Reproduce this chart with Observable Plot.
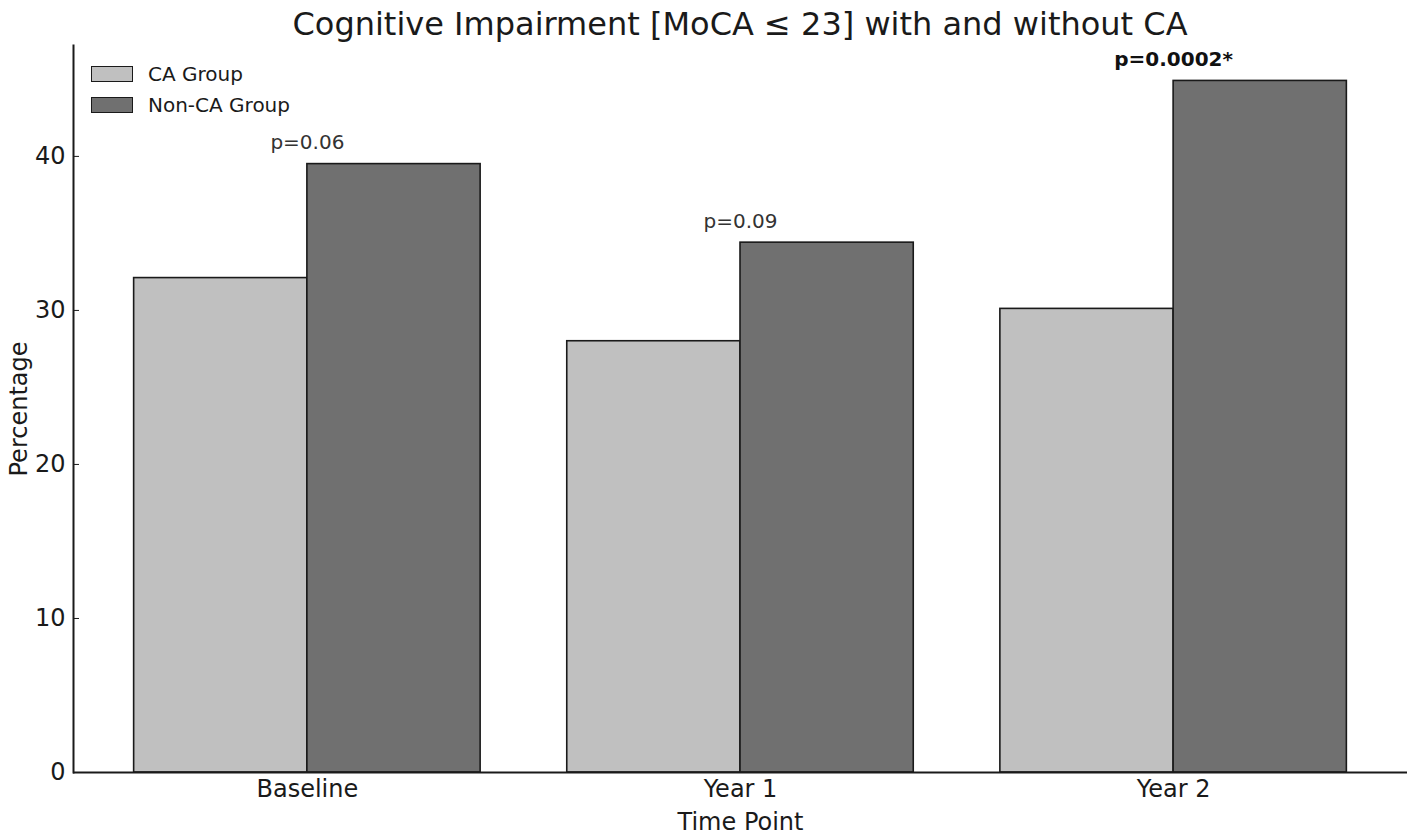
<!DOCTYPE html>
<html><head><meta charset="utf-8">
<script src="https://cdn.jsdelivr.net/npm/d3@7"></script>
<script src="https://cdn.jsdelivr.net/npm/@observablehq/plot@0.6"></script>
<style>
body{margin:0;background:#fff;font-family:"DejaVu Sans",sans-serif}
#wrap{position:relative;width:1417px;height:839px}
#title{position:absolute;left:73px;width:1334px;top:5px;text-align:center;font-size:32px;color:#1a1a1a;white-space:nowrap}
#legend{position:absolute;left:91px;top:58px}
.leg{display:flex;align-items:center;height:31px;font-size:20px;color:#1a1a1a}
.sw{width:40px;height:14px;border:1.5px solid #1a1a1a;margin-right:15px}
svg{display:block}
</style></head><body>
<div id="wrap"><div id="chart"></div><div id="title">Cognitive Impairment [MoCA ≤ 23] with and without CA</div><div id="legend"></div></div>
<script>
const timePoints = ["Baseline", "Year 1", "Year 2"];
const caGroup = [32.1, 28.0, 30.1];
const nonCaGroup = [39.5, 34.4, 44.9];
const pLabels = ["p=0.06", "p=0.09", "p=0.0002*"];
const significant = [false, false, true];
const groupNames = ["CA Group", "Non-CA Group"];
const groupColors = ["#c0c0c0", "#707070"];
const yTicks = [0, 10, 20, 30, 40];

const barW = 0.4;
const xDomain = [-0.54, 2.54];

const bars = [];
timePoints.forEach((t, i) => {
  bars.push({i, group: groupNames[0], x1: i - barW, x2: i, value: caGroup[i]});
  bars.push({i, group: groupNames[1], x1: i, x2: i + barW, value: nonCaGroup[i]});
});
const notes = timePoints.map((t, i) => ({i, label: pLabels[i], bold: significant[i], top: Math.max(caGroup[i], nonCaGroup[i])}));

const chart = Plot.plot({
  width: 1417, height: 839,
  marginLeft: 73, marginRight: 10, marginTop: 45, marginBottom: 67,
  style: {fontFamily: "DejaVu Sans", fontSize: "24px", color: "#1a1a1a", background: "#fff"},
  x: {domain: xDomain},
  y: {domain: [0, 47.2]},
  color: {domain: groupNames, range: groupColors},
  marks: [
    Plot.rectY(bars, {x1: "x1", x2: "x2", y1: 0, y2: "value", fill: "group", stroke: "#1a1a1a", strokeWidth: 1.6}),
    Plot.text(notes.filter(d => !d.bold), {x: "i", y: "top", text: "label", dy: -15, lineAnchor: "bottom", fontSize: 20, fill: "#333"}),
    Plot.text(notes.filter(d => d.bold), {x: "i", y: "top", text: "label", dy: -15, lineAnchor: "bottom", fontSize: 20, fontWeight: "bold", fill: "#111"}),
    Plot.axisY({ticks: yTicks, tickSize: -6, tickPadding: 14, fontSize: 24, label: "Percentage", labelAnchor: "center", labelArrow: "none", labelOffset: 64}),
    Plot.axisX({ticks: timePoints.map((t, i) => i), tickFormat: i => timePoints[i], tickSize: 0, tickPadding: 7, fontSize: 24, label: "Time Point", labelAnchor: "center", labelArrow: "none", labelOffset: 57}),
    Plot.ruleY([0], {stroke: "#1a1a1a", strokeWidth: 2}),
    Plot.frame({anchor: "left", stroke: "#1a1a1a", strokeWidth: 2})
  ]
});
document.getElementById("chart").appendChild(chart);

const leg = document.getElementById("legend");
groupNames.forEach((g, k) => {
  const row = document.createElement("div");
  row.className = "leg";
  const sw = document.createElement("div");
  sw.className = "sw";
  sw.style.background = groupColors[k];
  const lab = document.createElement("span");
  lab.textContent = g;
  row.appendChild(sw); row.appendChild(lab);
  leg.appendChild(row);
});
</script>
</body></html>
